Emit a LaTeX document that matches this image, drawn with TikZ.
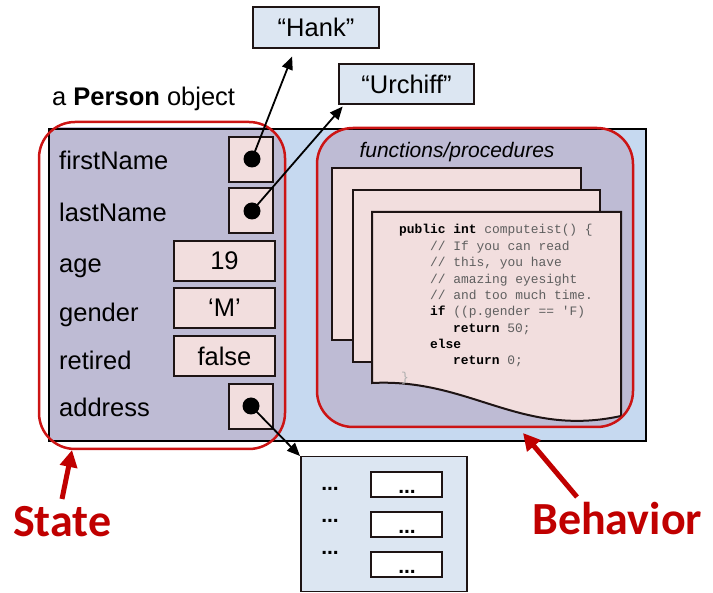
\documentclass[tikz,border=0pt]{standalone}
\usepackage{fontspec}
\setmainfont{Liberation Sans}
\setmonofont{Liberation Mono}
\newfontfamily\calib{Carlito}
\usetikzlibrary{arrows.meta,calc}
\definecolor{objblue}{RGB}{198,217,240}
\definecolor{statepurp}{RGB}{190,187,212}
\definecolor{valpink}{RGB}{242,222,222}
\definecolor{strblue}{RGB}{220,230,242}
\definecolor{redline}{RGB}{204,20,20}
\definecolor{darkred}{RGB}{192,0,0}
\definecolor{codegray}{RGB}{95,95,95}
\definecolor{boxline}{RGB}{30,20,20}
\tikzset{
  big/.style={font=\fontsize{25.5}{30}\selectfont},
  lbl/.style={big, inner sep=0, anchor=base west},
  valbox/.style={big, draw=boxline, line width=2pt, fill=valpink, inner sep=0},
  ptrbox/.style={valbox, minimum width=44pt, minimum height=45pt},
  widebox/.style={valbox, minimum width=101pt, minimum height=40pt},
  strbox/.style={big, draw=boxline, line width=2pt, fill=strblue, inner sep=0},
  dotnode/.style={circle, fill=black, inner sep=0, minimum size=17pt},
  ptr/.style={line width=1.8pt, -{Triangle[length=13pt,width=11pt]}},
  redarrow/.style={darkred, line width=5pt, -{Triangle[length=17pt,width=17pt]}},
  redround/.style={draw=redline, line width=2.5pt, rounded corners=36pt},
  page/.style={draw=boxline, line width=2pt, fill=valpink},
  code/.style={font=\ttfamily\fontsize{12.9}{16.4}\selectfont, text=codegray, inner sep=0, anchor=base west},
  kw/.style={},
  bigred/.style={font=\calib\bfseries\fontsize{46}{50}\selectfont, text=darkred, inner sep=0, anchor=base west},
  dots/.style={font=\bfseries\fontsize{21}{24}\selectfont, inner sep=0, anchor=base},
  smallbox/.style={draw=boxline, line width=2pt, fill=white, minimum width=71pt, minimum height=25pt, inner sep=0}
}
\newcommand{\kwd}[1]{\textcolor{black}{\bfseries #1}}
\begin{document}
\begin{tikzpicture}[x=1pt,y=-1pt]
\useasboundingbox (0,0) rectangle (713,593);

% main object
\fill[objblue] (48,128) rectangle (645,440);
\begin{scope}
  \clip (48,128) rectangle (645,440);
  \fill[statepurp] (39,122) [rounded corners=36pt] rectangle (285,449);
  \fill[statepurp] (317,128) [rounded corners=36pt] rectangle (633,427);
\end{scope}
\node[draw=black, line width=2pt, minimum width=597pt, minimum height=312pt, inner sep=0, anchor=north west] (obj) at (48,128) {};

\node[lbl] (aperson) at (52,106) {a \textbf{Person} object};

% field labels
\node[lbl] (fnl) at (59,170) {firstName};
\node[lbl] (lnl) at (59,222) {lastName};
\node[lbl] (agel) at (59,273) {age};
\node[lbl] (genl) at (59,322) {gender};
\node[lbl] (retl) at (59,370) {retired};
\node[lbl] (addl) at (59,417) {address};

% value boxes
\node[ptrbox] (fnb) at (251,159.5) {};
\node[ptrbox] (lnb) at (251,210.5) {};
\node[widebox] (ageb) at (224.5,261) {19};
\node[widebox] (genb) at (224.5,308) {‘M’};
\node[widebox] (retb) at (224.5,356.5) {false};
\node[ptrbox] (addb) at (251,407) {};
\node[dotnode] (fnd) at (252,159) {};
\node[dotnode] (lnd) at (252,211) {};
\node[dotnode] (addd) at (251,406) {};

% behavior
\node[font=\itshape\fontsize{21}{24}\selectfont, inner sep=0] (fp) at (457,152) {functions/procedures};
\draw[page] (332,168) rectangle (581,340);
\draw[page] (353,190) rectangle (600,362);
\draw[page] (372,212) -- (621,212) -- (621,416) .. controls (520,438) and (470,378) .. (372,383) -- cycle;
\node[code] (c1) at (399,234) {\kwd{public int} computeist() \{};
\node[code] (c2) at (430,250.5) {// If you can read};
\node[code] (c3) at (430,267) {// this, you have};
\node[code] (c4) at (430,283.5) {// amazing eyesight};
\node[code] (c5) at (430,300) {// and too much time.};
\node[code] (c6) at (430,316) {\kwd{if} ((p.gender == 'F)};
\node[code] (c7) at (453,332.5) {\kwd{return} 50;};
\node[code] (c8) at (430,349) {\kwd{else}};
\node[code] (c9) at (453,365) {\kwd{return} 0;};
\node[code, text=codegray!50] (c10) at (401,381.5) {\}};

% red outlines
\draw[redround] (39,122) rectangle (285,449);
\draw[redround] (317,128) rectangle (633,427);

% strings
\node[strbox, minimum width=126pt, minimum height=41pt] (hank) at (316,27.5) {“Hank”};
\node[strbox, minimum width=135pt, minimum height=40pt] (urch) at (406.5,84) {“Urchiff”};

% address object
\node[draw=boxline, line width=1.5pt, fill=strblue, minimum width=166pt, minimum height=135pt, inner sep=0, anchor=north west] (aobj) at (300,456) {};
\node[smallbox] (b1) at (406.5,484.5) {};
\node[smallbox] (b2) at (406.5,524.5) {};
\node[smallbox] (b3) at (406.5,564.5) {};
\node[dots] (d1) at (330,491) {...};
\node[dots] (d2) at (330,523) {...};
\node[dots] (d3) at (330,555) {...};
\node[dots] (e1) at (407,494) {...};
\node[dots] (e2) at (407,534) {...};
\node[dots] (e3) at (407,574) {...};

% pointers
\draw[ptr, shorten >=8pt] (fnd.center) -- ([xshift=-21pt]hank.south);
\draw[ptr, shorten >=2pt] (lnd.center) -- ([xshift=6pt]urch.south west);
\draw[ptr] (addd.center) -- (aobj.north west);

% State / Behavior
\node[bigred] (state) at (13,537) {State};
\node[bigred] (behav) at (532,535) {Behavior};
\coordinate (statetail) at (62,499);
\coordinate (statetip) at (72,450);
\coordinate (behtail) at (577,497);
\coordinate (behtip) at (523,433);
\draw[redarrow] (statetail) -- (statetip);
\draw[redarrow] (behtail) -- (behtip);
\end{tikzpicture}
\end{document}
